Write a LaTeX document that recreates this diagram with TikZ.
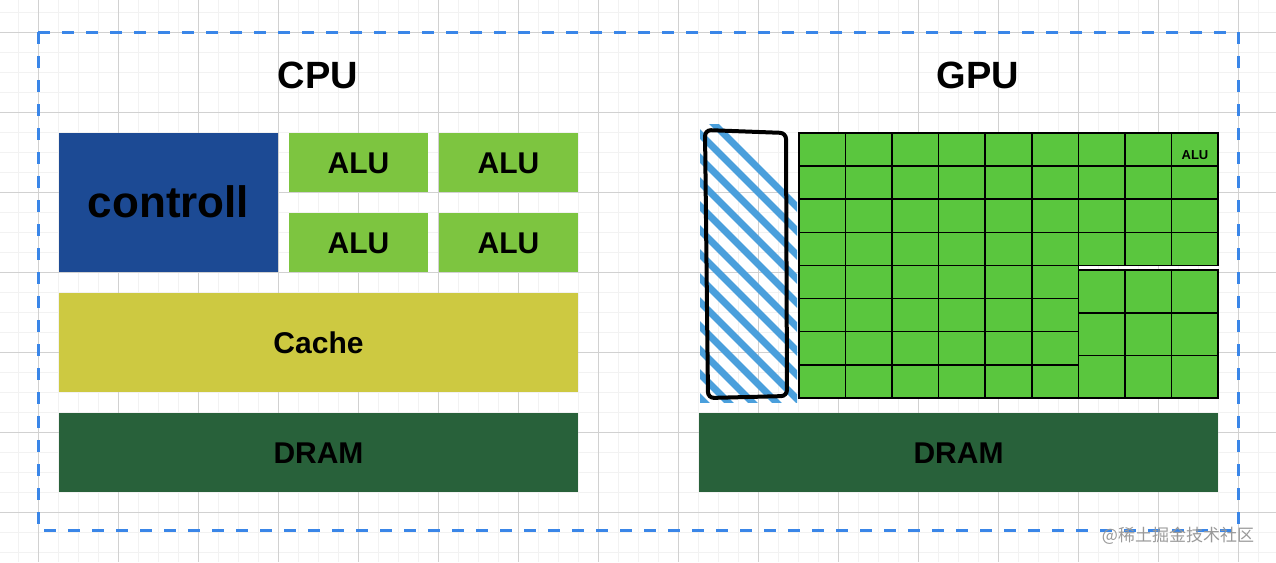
\documentclass[tikz,border=0pt]{standalone}
\usepackage{fontspec}
\setmainfont{Liberation Sans}
\newfontfamily\cjk{Noto Sans CJK SC}
\definecolor{ctrlblue}{HTML}{1C4A94}
\definecolor{alugreen}{HTML}{7DC540}
\definecolor{cachey}{HTML}{CDC941}
\definecolor{dramgreen}{HTML}{28613A}
\definecolor{gpugreen}{HTML}{5AC63E}
\definecolor{hatchblue}{HTML}{4A9FDC}
\definecolor{frameblue}{HTML}{3A86E8}
\begin{document}
\begin{tikzpicture}[x=1pt, y=-1pt,
  block/.style={draw=none, inner sep=0pt, font=\bfseries\fontsize{30}{30}\selectfont},
  title/.style={font=\bfseries\fontsize{38}{38}\selectfont},
  cell/.style={fill=gpugreen, draw=black, line width=1.6pt}]
 \useasboundingbox (0,0) rectangle (1276,562);
 % background grid
 \foreach \x in {18,38,...,1276} \draw[black!5, line width=0.8pt] (\x,0) -- (\x,562);
 \foreach \y in {12,32,...,562} \draw[black!5, line width=0.8pt] (0,\y) -- (1276,\y);
 \foreach \x in {38,118,...,1276} \draw[black!18, line width=0.8pt] (\x,0) -- (\x,562);
 \foreach \y in {32,112,...,562} \draw[black!18, line width=0.8pt] (0,\y) -- (1276,\y);
 % frame
 \draw[frameblue, line width=3pt, dash pattern=on 12pt off 12pt] (38,32) rectangle (1238,530);

 % CPU
 \node[title] (cpu) at (318,75) {CPU};
 \fill[ctrlblue] (59,133) rectangle (278,272);
 \node[block, font=\bfseries\fontsize{44}{44}\selectfont] (ctrl) at (168.5,202) {controll};
 \foreach \i/\x in {1/289, 2/439}
  \foreach \j/\y in {1/133, 2/213} {
   \fill[alugreen] (\x,\y) rectangle ++(139,59);
   \node[block] (alu\i\j) at (\x+69.5,\y+30) {ALU};
  }
 \fill[cachey] (59,293) rectangle (578,392);
 \node[block] (cache) at (318.5,343) {Cache};
 \fill[dramgreen] (59,413) rectangle (578,492);
 \node[block] (cpudram) at (318.5,453) {DRAM};

 % GPU
 \node[title] (gpu) at (978,75) {GPU};
 \begin{scope}
  \clip (700,124) rectangle (797,402);
  \foreach \k in {0,...,14}
   \draw[hatchblue, line width=7pt, line cap=round] (690,100+\k*24) -- ++(110,110);
 \end{scope}
 \draw[black, line width=4pt, rounded corners=6pt] (705,130) -- (786,133) -- (787,396) -- (708,398) -- cycle;
 \foreach \c in {0,...,5}
  \foreach \r in {0,...,7}
   \draw[cell] (799+\c*46.55,133+\r*33.1) rectangle ++(46.55,33.1);
 \foreach \c in {6,7,8} {
  \foreach \r in {0,...,3}
   \draw[cell] (799+\c*46.55,133+\r*33.1) rectangle ++(46.55,33.1);
  \foreach \r in {0,1,2}
   \draw[cell] (799+\c*46.55,270+\r*42.7) rectangle ++(46.55,42.7);
 }
 \node[font=\bfseries\fontsize{13}{13}\selectfont] (smallalu) at (1195,155) {ALU};
 \fill[dramgreen] (699,413) rectangle (1218,492);
 \node[block] (gpudram) at (958.5,453) {DRAM};

 % watermark
 \node[text=black!40, font=\cjk\fontsize{17}{17}\selectfont] (mark) at (1178,536) {@稀土掘金技术社区};
\end{tikzpicture}
\end{document}
